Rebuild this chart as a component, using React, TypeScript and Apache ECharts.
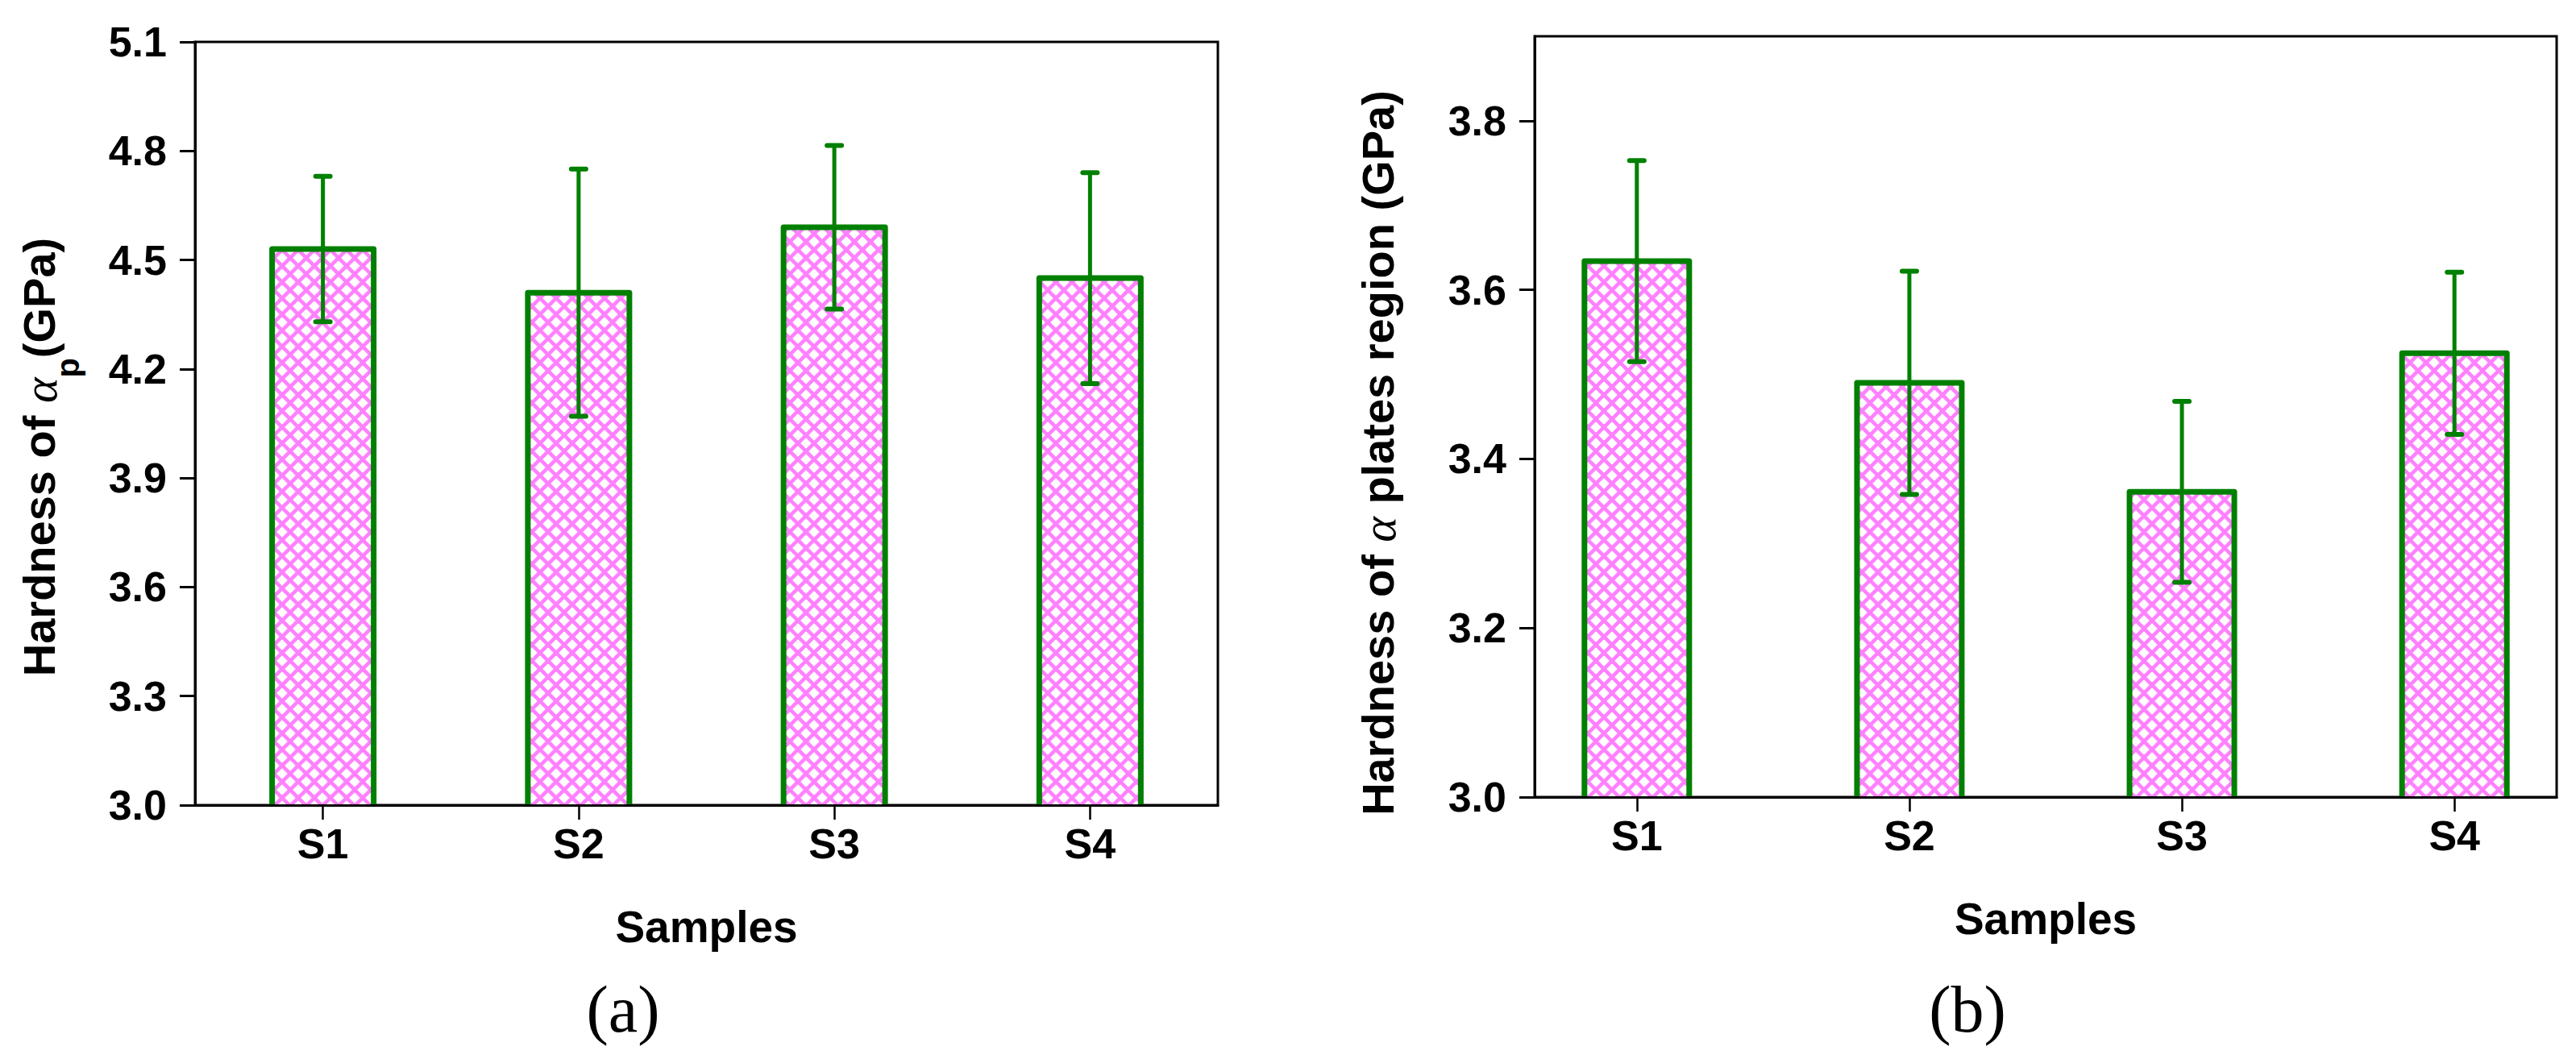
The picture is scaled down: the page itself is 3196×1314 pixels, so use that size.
import React, { useEffect, useRef } from 'react';
import * as echarts from 'echarts';

// ---------- data ----------
const categories = ['S1', 'S2', 'S3', 'S4'];
const categoryPositions = [1, 2, 3, 4];
const apHardness = [4.53, 4.41, 4.59, 4.45];
const apError = [0.2, 0.34, 0.225, 0.29];
const plateHardness = [3.634, 3.49, 3.361, 3.525];
const plateError = [0.119, 0.132, 0.107, 0.096];
const apTicks = [3.0, 3.3, 3.6, 3.9, 4.2, 4.5, 4.8, 5.1];
const plateTicks = [3.0, 3.2, 3.4, 3.6, 3.8];

const GREEN = '#008000';
const PINK = '#ff80ff';
const SANS = '"Liberation Sans", Arial, sans-serif';
const SERIF = '"Liberation Serif", "Times New Roman", serif';

function makeHatch() {
  const size = 20;
  const c = document.createElement('canvas');
  c.width = size;
  c.height = size;
  const ctx = c.getContext('2d') as CanvasRenderingContext2D;
  ctx.fillStyle = '#ffffff';
  ctx.fillRect(0, 0, size, size);
  ctx.strokeStyle = PINK;
  ctx.lineWidth = 4.5;
  for (const k of [-1, 0, 1]) {
    ctx.beginPath();
    ctx.moveTo(-5, -5 + k * size);
    ctx.lineTo(size + 5, size + 5 + k * size);
    ctx.stroke();
    ctx.beginPath();
    ctx.moveTo(-5, size + 5 + k * size);
    ctx.lineTo(size + 5, -5 + k * size);
    ctx.stroke();
  }
  return { image: c, repeat: 'repeat', imageWidth: size, imageHeight: size };
}

function barSeries(idx: number, values: number[], yMin: number, barW: number, pattern: any) {
  return {
    type: 'custom',
    xAxisIndex: idx,
    yAxisIndex: idx,
    clip: true,
    silent: true,
    z: 2,
    encode: { x: 0, y: 1 },
    data: values.map((v, i) => [categoryPositions[i], v]),
    renderItem: (params: any, api: any) => {
      const x = api.value(0);
      const top = api.coord([x, api.value(1)]);
      const base = api.coord([x, yMin]);
      return {
        type: 'rect',
        shape: { x: top[0] - barW / 2, y: top[1], width: barW, height: base[1] - top[1] + 20 },
        style: { fill: pattern, stroke: GREEN, lineWidth: 7, lineJoin: 'round' },
      };
    },
  };
}

function errorSeries(idx: number, values: number[], errors: number[]) {
  return {
    type: 'custom',
    xAxisIndex: idx,
    yAxisIndex: idx,
    silent: true,
    z: 3,
    encode: { x: 0, y: 1 },
    data: values.map((v, i) => [categoryPositions[i], v, errors[i]]),
    renderItem: (params: any, api: any) => {
      const x = api.value(0);
      const v = api.value(1);
      const e = api.value(2);
      const hi = api.coord([x, v + e]);
      const lo = api.coord([x, v - e]);
      const cap = 9;
      const st = { stroke: GREEN, lineWidth: 6, lineCap: 'round' };
      return {
        type: 'group',
        children: [
          { type: 'line', shape: { x1: hi[0], y1: hi[1], x2: lo[0], y2: lo[1] }, style: { stroke: GREEN, lineWidth: 5 } },
          { type: 'line', shape: { x1: hi[0] - cap, y1: hi[1], x2: hi[0] + cap, y2: hi[1] }, style: st },
          { type: 'line', shape: { x1: lo[0] - cap, y1: lo[1], x2: lo[0] + cap, y2: lo[1] }, style: st },
        ],
      };
    },
  };
}

function xAxisFor(idx: number, min: number, max: number) {
  return {
    gridIndex: idx,
    type: 'value',
    min,
    max,
    z: 5,
    axisLine: { show: true, onZero: false, lineStyle: { color: '#000', width: 3 } },
    axisTick: {
      show: true,
      inside: false,
      length: 18,
      customValues: categoryPositions,
      lineStyle: { color: '#000', width: 2.5 },
    },
    axisLabel: {
      customValues: categoryPositions,
      formatter: (v: number) => categories[Math.round(v) - 1] || '',
      fontFamily: SANS,
      fontWeight: 'bold',
      fontSize: 52,
      color: '#000',
      margin: 22,
    },
    splitLine: { show: false },
    name: 'Samples',
    nameLocation: 'middle',
    nameGap: 123,
    nameTextStyle: { fontFamily: SANS, fontWeight: 'bold', fontSize: 55, color: '#000' },
  };
}

function yAxisFor(idx: number, min: number, max: number, ticks: number[]) {
  return {
    gridIndex: idx,
    type: 'value',
    min,
    max,
    z: 5,
    axisLine: { show: true, onZero: false, lineStyle: { color: '#000', width: 3 } },
    axisTick: { show: true, inside: false, length: 19, customValues: ticks, lineStyle: { color: '#000', width: 3 } },
    axisLabel: {
      customValues: ticks,
      formatter: (v: number) => v.toFixed(1),
      fontFamily: SANS,
      fontWeight: 'bold',
      fontSize: 52,
      color: '#000',
      margin: 35,
    },
    splitLine: { show: false },
  };
}

export default function App() {
  const ref = useRef<HTMLDivElement>(null);
  useEffect(() => {
    if (!ref.current) return;
    const chart = echarts.init(ref.current, undefined, { renderer: 'svg' });
    const pattern = makeHatch();
    const nameMain = { fontFamily: SANS, fontWeight: 'bold', fontSize: 56, fill: '#000', lineHeight: 56, verticalAlign: 'top' };
    const alpha = { fontFamily: SERIF, fontStyle: 'italic', fontSize: 60, fill: '#000', lineHeight: 56, verticalAlign: 'top' };
    const option: any = {
      animation: false,
      backgroundColor: '#ffffff',
      grid: [
        { left: 242, top: 52, width: 1269, height: 947, show: true, borderColor: '#000', borderWidth: 3, backgroundColor: 'transparent', containLabel: false },
        { left: 1904, top: 45, width: 1268, height: 944, show: true, borderColor: '#000', borderWidth: 3, backgroundColor: 'transparent', containLabel: false },
      ],
      xAxis: [xAxisFor(0, 0.5, 4.5), xAxisFor(1, 0.625, 4.375)],
      yAxis: [yAxisFor(0, 3.0, 5.1, apTicks), yAxisFor(1, 3.0, 3.9, plateTicks)],
      series: [
        barSeries(0, apHardness, 3.0, 126, pattern),
        errorSeries(0, apHardness, apError),
        barSeries(1, plateHardness, 3.0, 130, pattern),
        errorSeries(1, plateHardness, plateError),
      ],
      graphic: [
        {
          type: 'text',
          x: 20,
          y: 567,
          rotation: Math.PI / 2,
          silent: true,
          style: {
            text: '{b|Hardness of }{g|α}{s|p}{b|(GPa)}',
            align: 'center',
            verticalAlign: 'top',
            rich: {
              b: nameMain,
              g: alpha,
              s: { fontFamily: SANS, fontWeight: 'bold', fontSize: 40, fill: '#000', lineHeight: 84, verticalAlign: 'bottom' },
            },
          },
        },
        {
          type: 'text',
          x: 1681,
          y: 562,
          rotation: Math.PI / 2,
          silent: true,
          style: {
            text: '{b|Hardness of }{g|α}{b| plates region (GPa)}',
            align: 'center',
            verticalAlign: 'top',
            rich: { b: nameMain, g: alpha },
          },
        },
        {
          type: 'text',
          x: 773,
          y: 1252,
          silent: true,
          style: { text: '(a)', align: 'center', verticalAlign: 'middle', fontFamily: SERIF, fontSize: 82, fill: '#000' },
        },
        {
          type: 'text',
          x: 2441,
          y: 1252,
          silent: true,
          style: { text: '(b)', align: 'center', verticalAlign: 'middle', fontFamily: SERIF, fontSize: 82, fill: '#000' },
        },
      ],
    };
    chart.setOption(option);
    return () => chart.dispose();
  }, []);
  return (
    <div
      ref={ref}
      style={{ position: 'absolute', left: 0, top: 0, width: 3196, height: 1314, background: '#fff' }}
    />
  );
}
